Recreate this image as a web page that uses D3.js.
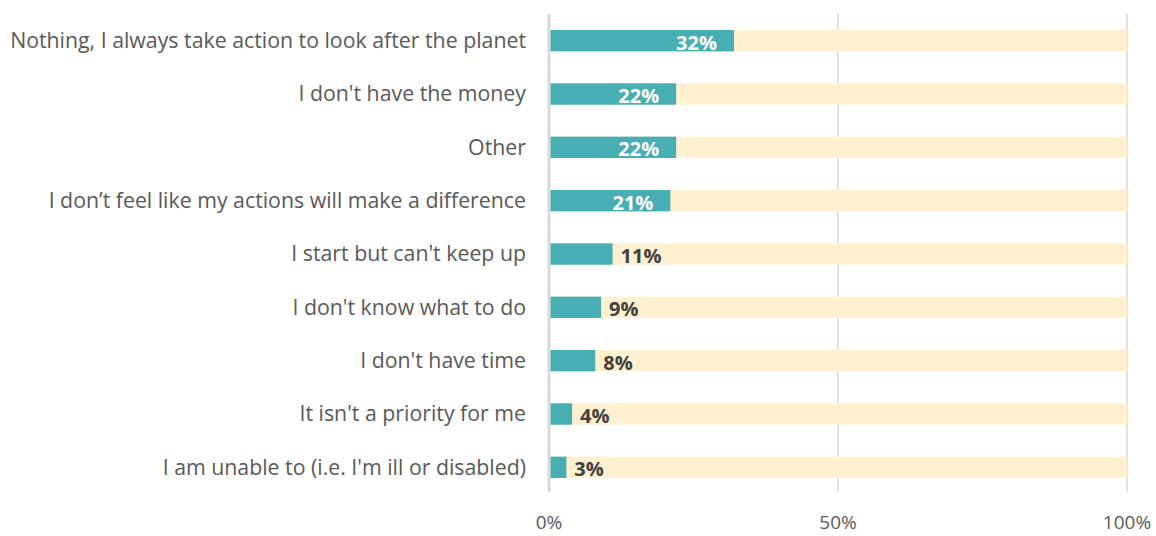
<!DOCTYPE html>
<html>
<head>
<meta charset="utf-8">
<script src="https://cdn.jsdelivr.net/npm/d3@7"></script>
<style>
  html, body { margin: 0; padding: 0; background: #fff; }
  svg { display: block; font-family: "Open Sans", "Noto Sans", sans-serif; }
</style>
</head>
<body>
<svg id="chart" width="1156" height="536"></svg>
<script>
// Reasons for not taking action, share of respondents (%)
const categories = [
  "Nothing, I always take action to look after the planet",
  "I don't have the money",
  "Other",
  "I don\u2019t feel like my actions will make a difference",
  "I start but can't keep up",
  "I don't know what to do",
  "I don't have time",
  "It isn't a priority for me",
  "I am unable to (i.e. I'm ill or disabled)"
];
const values = [32, 22, 22, 21, 11, 9, 8, 4, 3];
const tickValues = [0, 50, 100];

const svg = d3.select("#chart");
const plotLeft = 549, plotRight = 1127, plotTop = 14, plotBottom = 494;

const x = d3.scaleLinear().domain([0, 100]).range([plotLeft, plotRight]);
const y = d3.scaleBand().domain(categories).range([plotTop, plotBottom]).paddingInner(0.6).paddingOuter(0.3);

// vertical gridlines
svg.append("g").selectAll("line")
  .data(tickValues)
  .join("line")
  .attr("x1", d => x(d)).attr("x2", d => x(d))
  .attr("y1", plotTop).attr("y2", 492)
  .attr("stroke", "#d9d9d9")
  .attr("stroke-width", d => d === 0 ? 3 : 1.5);

// x-axis tick labels
svg.append("g").selectAll("text")
  .data(tickValues)
  .join("text")
  .attr("x", d => x(d)).attr("y", 529)
  .attr("text-anchor", "middle")
  .attr("font-size", 19)
  .attr("fill", "#595959")
  .text(d => d + "%");

const rows = svg.append("g").selectAll("g")
  .data(categories.map((c, i) => ({ c, v: values[i] })))
  .join("g");

// full-width background track
rows.append("rect")
  .attr("x", x(0) + 1.5)
  .attr("y", d => y(d.c))
  .attr("width", x(100) - x(0) - 1.5)
  .attr("height", y.bandwidth())
  .attr("fill", "#fff0cf");

// value bar
rows.append("rect")
  .attr("x", x(0) + 1.5)
  .attr("y", d => y(d.c))
  .attr("width", d => x(d.v) - x(0) - 1.5)
  .attr("height", y.bandwidth())
  .attr("fill", "#47aeb4");

// category labels
rows.append("text")
  .attr("x", 526)
  .attr("y", d => y(d.c) + y.bandwidth() / 2)
  .attr("dy", "0.35em")
  .attr("text-anchor", "end")
  .attr("font-size", 21.3)
  .attr("fill", "#595959")
  .text(d => d.c);

// value labels: inside the bar when long enough, otherwise just past its end
rows.append("text")
  .attr("x", d => d.v >= 20 ? x(d.v) - 17 : x(d.v) + 8)
  .attr("y", d => y(d.c) + y.bandwidth() / 2 + 2)
  .attr("dy", "0.35em")
  .attr("text-anchor", d => d.v >= 20 ? "end" : "start")
  .attr("font-size", 20)
  .attr("font-weight", "bold")
  .attr("fill", d => d.v >= 20 ? "#ffffff" : "#404040")
  .text(d => d.v + "%");
</script>
</body>
</html>
